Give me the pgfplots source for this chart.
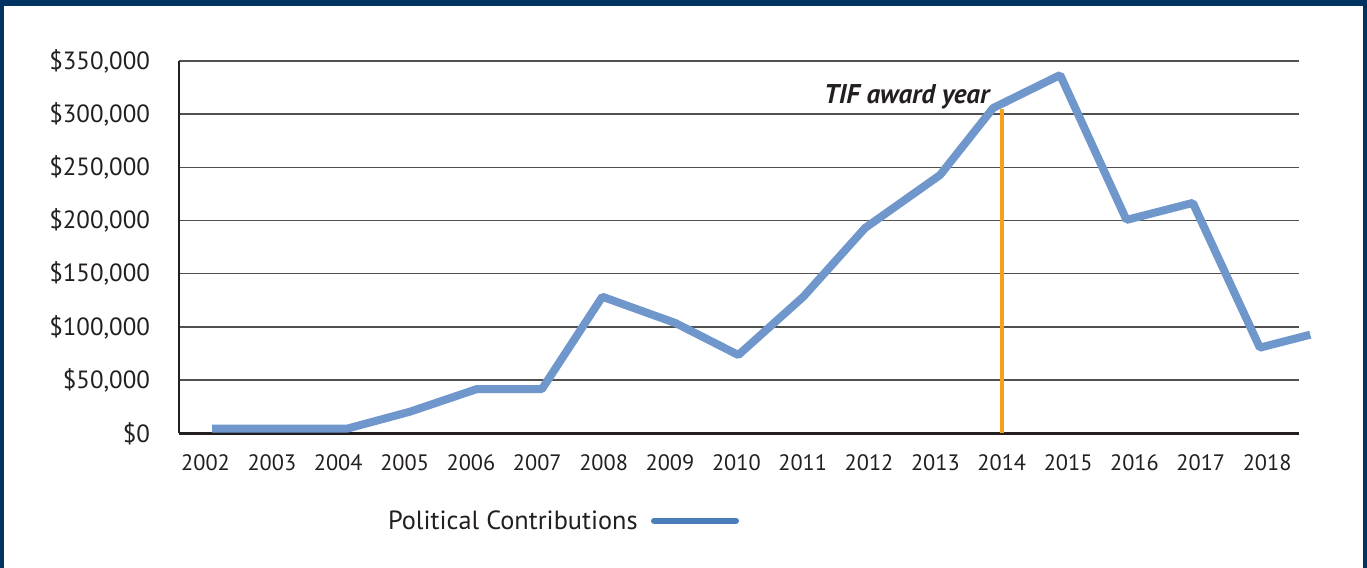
\documentclass[border=0pt]{standalone}
\usepackage{pgfplots}
\pgfplotsset{compat=1.18}
\usepackage{fontspec}
\setmainfont{PT Sans}
\definecolor{navy}{RGB}{0,50,98}
\definecolor{lineblue}{RGB}{112,151,204}
\definecolor{legblue}{RGB}{74,126,187}
\definecolor{tifor}{RGB}{247,161,26}
\definecolor{txt}{RGB}{35,31,32}
\definecolor{gridc}{RGB}{80,80,80}
\begin{document}
\begin{tikzpicture}
% frame (axis box south west is at the origin)
\fill[navy] (-89.5bp,-67.35bp) rectangle (594bp,216.65bp);
\fill[white] (-87.5bp,-67.35bp) rectangle (592bp,213.65bp);
\begin{axis}[
  name=ax,
  at={(0,0)}, anchor=south west,
  scale only axis,
  width=560bp, height=186.15bp,
  xmin=2001.60, xmax=2018.48,
  ymin=0, ymax=350000,
  scaled y ticks=false,
  clip=false,
  axis x line=bottom, axis y line=left,
  axis line style={-, txt},
  x axis line style={line width=1.25bp},
  y axis line style={line width=1.3bp},
  major tick length=0,
  ymajorgrids,
  grid style={gridc, line width=0.7bp},
  xtick={2002,2003,2004,2005,2006,2007,2008,2009,2010,2011,2012,2013,2014,2015,2016,2017,2018},
  xticklabels={2002,2003,2004,2005,2006,2007,2008,2009,2010,2011,2012,2013,2014,2015,2016,2017,2018},
  ytick={0,50000,100000,150000,200000,250000,300000,350000},
  yticklabels={{\$0},{\$50,000},{\$100,000},{\$150,000},{\$200,000},{\$250,000},{\$300,000},{\$350,000}},
  xticklabel style={font=\fontsize{11.2}{13}\selectfont, text=txt, yshift=-7bp},
  yticklabel style={font=\fontsize{12.5}{14}\selectfont, text=txt, xshift=-11bp},
  /pgf/number format/assume math mode=true,
]
\addplot[tifor, line width=2bp, forget plot] coordinates {(2014,0) (2014,305000)};
\addplot[lineblue, line width=4bp, line join=bevel, line cap=butt] coordinates {
  (2002.10,4300) (2004.13,4300) (2005.08,20300) (2006.09,41600) (2007.07,41600)
  (2007.98,128400) (2009.08,103700) (2010.03,73600) (2011.01,128400)
  (2011.94,193000) (2013.07,242800) (2013.87,305800) (2014.88,336800)
  (2015.88,200600) (2016.88,216600) (2017.89,80500) (2018.65,92700)
};
\node[anchor=base east, font=\fontsize{13.6}{15}\selectfont\bfseries\itshape, text=txt, inner sep=0pt]
  at (axis cs:2013.82,310200) {TIF award year};
\end{axis}
% legend
\node[anchor=base west, inner sep=0pt, font=\fontsize{13.2}{15}\selectfont, text=txt] at (104.35bp,-48.3bp) {Political Contributions};
\draw[legblue, line width=3bp, line cap=round] (237.5bp,-43.65bp) -- (278.5bp,-43.65bp);
\end{tikzpicture}
\end{document}
